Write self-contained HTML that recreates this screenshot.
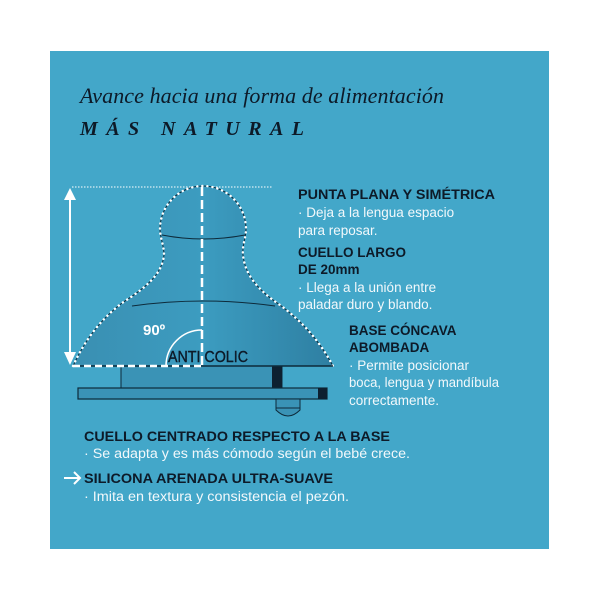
<!DOCTYPE html>
<html><head><meta charset="utf-8"><style>
html,body{margin:0;padding:0;background:#fff;width:600px;height:600px;overflow:hidden}
svg{display:block}
.h{font-family:"Liberation Sans",sans-serif;font-weight:bold;font-size:13.5px;fill:#0d1a28}
.b{font-family:"Liberation Sans",sans-serif;font-size:13.5px;fill:#f2f8fb}
</style></head><body>
<svg width="600" height="600" viewBox="0 0 600 600">
<defs>
<linearGradient id="g" x1="0" y1="0" x2="1" y2="0">
<stop offset="0" stop-color="#3a8fb2"/><stop offset="0.5" stop-color="#3c9cc0"/><stop offset="1" stop-color="#2e7fa2"/></linearGradient>
</defs>
<rect x="50" y="51" width="499" height="498" fill="#43a7c9"/>
<text x="80" y="103" font-family="Liberation Serif,serif" font-style="italic" font-size="22" fill="#0d1a28" textLength="364">Avance hacia una forma de alimentación</text>
<text x="80" y="135" font-family="Liberation Serif,serif" font-style="italic" font-weight="bold" font-size="20" fill="#0d1a28" letter-spacing="6" textLength="230">MÁS NATURAL</text>
<line x1="72" y1="187" x2="272" y2="187" stroke="#fff" stroke-width="1" stroke-dasharray="1.5,1.5"/>
<line x1="70" y1="198" x2="70" y2="356" stroke="#fff" stroke-width="2"/>
<polygon points="64,200 76,200 70,188" fill="#fff"/>
<polygon points="64,352 76,352 70,365" fill="#fff"/>
<rect x="121" y="366" width="161" height="22" fill="#3a93b6" stroke="#0d2a3a" stroke-width="1"/>
<rect x="272" y="366" width="10" height="22" fill="#0d2030"/>
<rect x="78" y="388" width="249" height="11" fill="#3a93b6" stroke="#0d2a3a" stroke-width="1.2"/>
<rect x="318" y="388" width="9" height="11" fill="#0d2030"/>
<path d="M276,399 L300,399 L300,410 Q288,422 276,410 Z" fill="#3a93b6" stroke="#0d2a3a"/>
<line x1="276" y1="408" x2="300" y2="408" stroke="#0d2a3a"/>
<path d="M73,366 C85,340 100,320 122,303 C145,288 162,275 164,255 C164,245 160,238 160,229 A43,43 0 0 1 246,229 C246,238 242,245 243,255 C245,275 258,290 280,305 C300,320 318,338 333,366 Z" fill="url(#g)" stroke="#0d2a3a" stroke-width="1"/>
<path d="M162,235 Q203,243 245,235" fill="none" stroke="#0d2a3a" stroke-width="1"/>
<path d="M132,306 Q203,296 275,306" fill="none" stroke="#0d2a3a" stroke-width="1"/>
<path d="M73,366 C85,340 100,320 122,303 C145,288 162,275 164,255 C164,245 160,238 160,229 A43,43 0 0 1 246,229 C246,238 242,245 243,255 C245,275 258,290 280,305 C300,320 318,338 333,366" fill="none" stroke="#fff" stroke-width="2.4" stroke-dasharray="0.1,5" stroke-linecap="round"/>
<line x1="73" y1="366" x2="333" y2="366" stroke="#0d2a3a" stroke-width="1.5"/>
<line x1="73" y1="366" x2="202" y2="366" stroke="#fff" stroke-width="2.5" stroke-dasharray="7,4"/>
<line x1="202" y1="187" x2="202" y2="366" stroke="#fff" stroke-width="2.5" stroke-dasharray="9,4"/>
<path d="M166,366 A36,36 0 0 1 202,330" fill="none" stroke="#fff" stroke-width="1.5"/>
<text x="143" y="335" font-family="Liberation Sans,sans-serif" font-weight="bold" font-size="15" fill="#fff">90º</text>
<text x="168" y="362" font-family="Liberation Sans,sans-serif" font-size="16" fill="#0d1a28" stroke="#0d1a28" stroke-width="0.4" textLength="80" lengthAdjust="spacingAndGlyphs">ANTI COLIC</text>
<text class="h" x="298" y="199" textLength="197" lengthAdjust="spacingAndGlyphs">PUNTA PLANA Y SIMÉTRICA</text>
<text class="b" x="298" y="217">· Deja a la lengua espacio</text>
<text class="b" x="298" y="235">para reposar.</text>
<text class="h" x="298" y="257">CUELLO LARGO</text>
<text class="h" x="298" y="274">DE 20mm</text>
<text class="b" x="298" y="292">· Llega a la unión entre</text>
<text class="b" x="298" y="309">paladar duro y blando.</text>
<text class="h" x="349" y="335">BASE CÓNCAVA</text>
<text class="h" x="349" y="352">ABOMBADA</text>
<text class="b" x="349" y="370">· Permite posicionar</text>
<text class="b" x="349" y="387" textLength="150" lengthAdjust="spacingAndGlyphs">boca, lengua y mandíbula</text>
<text class="b" x="349" y="405">correctamente.</text>
<text class="h" x="84" y="441" textLength="306" lengthAdjust="spacingAndGlyphs">CUELLO CENTRADO RESPECTO A LA BASE</text>
<text class="b" x="84" y="458" textLength="326" lengthAdjust="spacingAndGlyphs">· Se adapta y es más cómodo según el bebé crece.</text>
<path d="M64,478 L80,478 M74,472 L80,478 L74,484" fill="none" stroke="#fff" stroke-width="2"/>
<text class="h" x="84" y="483" textLength="249" lengthAdjust="spacingAndGlyphs">SILICONA ARENADA ULTRA-SUAVE</text>
<text class="b" x="84" y="501" textLength="265" lengthAdjust="spacingAndGlyphs">· Imita en textura y consistencia el pezón.</text>
</svg>
</body></html>
